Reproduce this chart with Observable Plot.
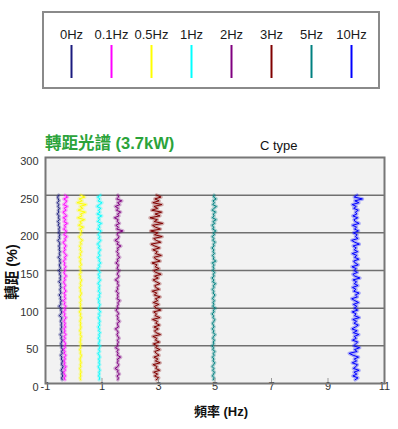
<!DOCTYPE html>
<html><head><meta charset="utf-8">
<script src="https://cdn.jsdelivr.net/npm/d3@7"></script>
<script src="https://cdn.jsdelivr.net/npm/@observablehq/plot@0.6"></script>
<style>
body{margin:0;background:#fff;}
#wrap{position:relative;width:398px;height:429px;overflow:hidden;font-family:"Liberation Sans",Arial,"Noto Sans CJK TC",sans-serif;}
.abs{position:absolute;white-space:nowrap;line-height:1;}
#legend{position:absolute;left:42px;top:11px;width:334px;height:74px;border:2px solid #8a8a8a;}
</style></head><body><div id="wrap"><div id="legend"></div></div>
<script>
const legendLabels = ["0Hz","0.1Hz","0.5Hz","1Hz","2Hz","3Hz","5Hz","10Hz"];
const colors = ["#1b1b7e","#ff00ff","#ffff00","#00ffff","#800080","#800000","#008080","#0000ff"];
const xTicks = [-1,1,3,5,7,9,11];
const yTicks = [0,50,100,150,200,250,300];
const gridVals = [50,100,150,200,250];
const yLevels = [5,7.5,10,12.5,15,17.5,20,22.5,25,27.5,30,32.5,35,37.5,40,42.5,45,47.5,50,52.5,
  55,57.5,60,62.5,65,67.5,70,72.5,75,77.5,80,82.5,85,87.5,90,92.5,95,97.5,100,102.5,
  105,107.5,110,112.5,115,117.5,120,122.5,125,127.5,130,132.5,135,137.5,140,142.5,145,147.5,150,152.5,
  155,157.5,160,162.5,165,167.5,170,172.5,175,177.5,180,182.5,185,187.5,190,192.5,195,197.5,200,202.5,
  205,207.5,210,212.5,215,217.5,220,222.5,225,227.5,230,232.5,235,237.5,240,242.5,245,247.5,250];

const x0Hz = [-0.41,-0.43,-0.39,-0.42,-0.40,-0.45,-0.41,-0.38,-0.43,-0.42,
  -0.40,-0.44,-0.42,-0.47,-0.41,-0.43,-0.39,-0.44,-0.42,-0.46,
  -0.43,-0.41,-0.45,-0.43,-0.49,-0.42,-0.44,-0.46,-0.42,-0.45,
  -0.43,-0.47,-0.44,-0.42,-0.51,-0.45,-0.43,-0.46,-0.44,-0.53,
  -0.45,-0.47,-0.44,-0.48,-0.46,-0.52,-0.45,-0.47,-0.49,-0.45,
  -0.48,-0.46,-0.53,-0.47,-0.49,-0.46,-0.50,-0.48,-0.54,-0.47,
  -0.49,-0.51,-0.47,-0.50,-0.48,-0.55,-0.49,-0.51,-0.48,-0.52,
  -0.50,-0.53,-0.49,-0.51,-0.56,-0.50,-0.52,-0.49,-0.54,-0.51,
  -0.53,-0.50,-0.55,-0.52,-0.57,-0.51,-0.54,-0.52,-0.58,-0.53,
  -0.55,-0.51,-0.56,-0.53,-0.58,-0.52,-0.55,-0.57,-0.53];
const x01Hz = [-0.31,-0.34,-0.29,-0.33,-0.36,-0.30,-0.32,-0.27,-0.34,-0.31,
  -0.35,-0.30,-0.33,-0.28,-0.34,-0.31,-0.37,-0.30,-0.33,-0.29,
  -0.32,-0.36,-0.30,-0.34,-0.28,-0.33,-0.31,-0.35,-0.29,-0.33,
  -0.30,-0.35,-0.32,-0.27,-0.34,-0.31,-0.36,-0.30,-0.33,-0.28,
  -0.34,-0.31,-0.37,-0.29,-0.33,-0.30,-0.35,-0.27,-0.32,-0.34,
  -0.29,-0.33,-0.36,-0.30,-0.34,-0.26,-0.32,-0.35,-0.30,-0.33,
  -0.28,-0.34,-0.31,-0.37,-0.29,-0.33,-0.25,-0.32,-0.36,-0.30,
  -0.34,-0.27,-0.33,-0.38,-0.29,-0.32,-0.24,-0.35,-0.30,-0.26,
  -0.36,-0.29,-0.33,-0.23,-0.35,-0.28,-0.37,-0.25,-0.32,-0.38,
  -0.27,-0.34,-0.23,-0.36,-0.29,-0.25,-0.35,-0.22,-0.31];
const x05Hz = [0.24,0.22,0.25,0.23,0.26,0.24,0.21,0.25,0.23,0.26,
  0.24,0.22,0.25,0.27,0.23,0.24,0.21,0.25,0.23,0.26,
  0.22,0.25,0.24,0.27,0.23,0.25,0.21,0.24,0.26,0.23,
  0.25,0.22,0.24,0.27,0.23,0.25,0.20,0.24,0.26,0.23,
  0.25,0.22,0.26,0.24,0.21,0.25,0.27,0.23,0.24,0.21,
  0.26,0.23,0.25,0.28,0.22,0.24,0.20,0.26,0.23,0.25,
  0.21,0.27,0.24,0.22,0.26,0.19,0.25,0.23,0.28,0.22,
  0.25,0.20,0.27,0.23,0.31,0.22,0.18,0.26,0.24,0.29,
  0.21,0.34,0.17,0.27,0.22,0.38,0.14,0.29,0.24,0.41,
  0.15,0.32,0.22,0.44,0.12,0.30,0.19,0.39,0.25];
const x1Hz = [0.90,0.92,0.88,0.91,0.89,0.93,0.90,0.87,0.92,0.89,
  0.91,0.88,0.93,0.90,0.86,0.92,0.89,0.91,0.94,0.88,
  0.90,0.92,0.87,0.91,0.89,0.94,0.88,0.91,0.86,0.92,
  0.89,0.93,0.90,0.87,0.92,0.88,0.95,0.90,0.87,0.91,
  0.93,0.88,0.90,0.86,0.92,0.89,0.94,0.87,0.91,0.89,
  0.92,0.86,0.90,0.95,0.88,0.91,0.87,0.93,0.89,0.85,
  0.92,0.88,0.96,0.89,0.91,0.85,0.93,0.88,0.90,0.95,
  0.87,0.92,0.84,0.90,0.96,0.88,0.93,0.86,0.91,0.97,
  0.85,0.92,0.88,0.98,0.84,0.91,0.87,0.99,0.83,0.93,
  0.88,0.96,0.82,0.91,1.00,0.86,0.93,0.84,0.95];
const x2Hz = [1.56,1.58,1.53,1.62,1.55,1.57,1.46,1.56,1.59,1.54,
  1.57,1.55,1.66,1.54,1.57,1.53,1.58,1.48,1.56,1.55,
  1.58,1.54,1.61,1.56,1.53,1.57,1.55,1.47,1.58,1.56,
  1.54,1.63,1.55,1.57,1.53,1.59,1.55,1.49,1.57,1.54,
  1.58,1.56,1.64,1.53,1.57,1.55,1.58,1.50,1.56,1.54,
  1.59,1.55,1.57,1.47,1.56,1.60,1.54,1.57,1.62,1.53,
  1.56,1.58,1.49,1.57,1.54,1.63,1.55,1.58,1.52,1.57,
  1.55,1.67,1.53,1.58,1.46,1.57,1.60,1.54,1.56,1.74,
  1.52,1.58,1.49,1.62,1.54,1.57,1.44,1.60,1.55,1.66,
  1.51,1.58,1.47,1.63,1.55,1.70,1.52,1.59,1.56];
const x3Hz = [2.92,3.01,2.86,2.97,2.83,3.04,2.90,2.95,2.81,3.06,
  2.89,2.98,2.84,3.02,2.92,2.87,3.05,2.90,2.96,2.82,
  3.03,2.89,2.94,2.80,3.07,2.91,2.86,2.99,2.84,3.04,
  2.90,2.96,2.79,3.05,2.88,2.93,2.83,3.08,2.91,2.86,
  3.01,2.82,2.97,2.89,3.06,2.85,2.94,2.78,3.03,2.90,
  2.87,3.05,2.92,2.81,2.99,2.86,3.09,2.90,2.83,3.02,
  2.88,2.95,2.77,3.06,2.91,2.84,3.10,2.89,2.96,2.80,
  3.04,2.87,2.74,3.08,2.92,2.83,3.13,2.86,2.98,2.72,
  3.07,2.89,2.79,3.15,2.85,2.96,2.70,3.05,2.88,3.11,
  2.76,2.97,2.84,3.12,2.80,3.02,2.87,3.09,2.93];
const x5Hz = [4.94,4.97,4.91,4.95,4.98,4.92,4.96,4.90,4.95,4.99,
  4.93,4.96,4.91,4.97,4.94,5.00,4.92,4.95,4.89,4.96,
  4.94,4.98,4.92,4.95,5.01,4.93,4.96,4.90,4.97,4.94,
  4.91,4.96,4.99,4.93,4.95,4.89,4.97,4.94,5.02,4.92,
  4.96,4.93,4.98,4.91,4.95,5.00,4.93,4.96,4.90,4.97,
  4.94,5.02,4.92,4.96,4.89,4.97,4.94,4.99,4.91,4.96,
  4.93,4.97,4.90,5.03,4.94,4.96,4.91,4.98,4.93,4.96,
  4.89,4.97,4.94,5.01,4.92,4.96,4.90,4.98,4.94,5.03,
  4.92,4.96,4.89,4.99,4.93,5.04,4.91,4.97,4.94,5.02,
  4.90,4.96,5.05,4.92,4.98,4.93,5.04,4.95,4.97];
const x10Hz = [9.96,10.06,9.88,10.02,9.92,10.10,9.90,9.99,10.04,9.86,
  10.01,9.93,10.08,9.89,9.75,10.03,9.94,10.12,9.91,9.98,
  10.05,9.87,10.00,9.93,10.09,9.90,10.03,9.85,9.97,10.07,
  9.92,10.01,9.88,10.11,9.94,9.99,9.86,10.05,9.93,10.02,
  9.90,10.08,9.95,9.84,10.04,9.97,10.10,9.91,9.99,9.87,
  10.06,9.93,10.01,9.89,10.13,9.95,9.88,10.04,9.92,10.00,
  9.85,10.07,9.96,9.91,10.09,9.94,10.02,9.86,10.05,9.93,
  10.00,9.89,10.11,9.95,9.84,10.06,9.97,10.03,9.90,10.08,
  9.94,10.01,9.87,10.10,9.96,9.92,10.05,9.88,10.02,9.97,
  10.07,9.91,10.00,9.86,10.09,9.95,10.22,9.93,10.03];
const series = [x0Hz,x01Hz,x05Hz,x1Hz,x2Hz,x3Hz,x5Hz,x10Hz];

const titleText = "轉距光譜 (3.7kW)";
const subTitle = "C type";
const xLabel = "頻率 (Hz)";
const yLabel = "轉距 (%)";

const FONT = '"Liberation Sans", Arial, "Noto Sans CJK TC", sans-serif';
const wrap = document.getElementById("wrap");

// legend
const legendPlot = Plot.plot({
  width: 334, height: 74, marginLeft: 25, marginRight: 26, marginTop: 0, marginBottom: 0,
  style: {fontFamily: FONT, background: "transparent", overflow: "visible"},
  x: {type: "point", domain: legendLabels, padding: 0, axis: null},
  color: {domain: legendLabels, range: colors},
  marks: [
    Plot.ruleX(legendLabels, {x: d => d, stroke: d => d, strokeWidth: 2, insetTop: 32, insetBottom: 9}),
    Plot.text(legendLabels, {x: d => d, text: d => d, frameAnchor: "top", dy: 16, fontSize: 13, fill: "#1a1a1a"})
  ]
});
document.getElementById("legend").appendChild(legendPlot);

// titles
function addText(txt, css){
  const d = document.createElement("div");
  d.className = "abs"; d.textContent = txt; Object.assign(d.style, css);
  wrap.appendChild(d);
}
addText(titleText, {left: "45px", top: "135px", fontSize: "16.5px", fontWeight: "bold", color: "#2ba33a"});
addText(subTitle, {left: "260px", top: "139px", fontSize: "13px", color: "#111"});
addText(xLabel, {left: "221px", top: "405px", fontSize: "13px", fontWeight: "bold", color: "#111", transform: "translateX(-50%)"});
addText(yLabel, {left: "12px", top: "272px", fontSize: "14.5px", fontWeight: "bold", color: "#111", transform: "translate(-50%,-50%) rotate(-90deg)"});

// main chart
const rows = [];
series.forEach((xs, i) => xs.forEach((x, j) => rows.push({s: legendLabels[i], x, y: yLevels[j]})));

const chart = Plot.plot({
  width: 398, height: 289, marginTop: 17, marginBottom: 46, marginLeft: 45, marginRight: 14,
  style: {fontFamily: FONT, fontSize: "11px", color: "#333", background: "transparent"},
  x: {domain: [-1, 11]},
  y: {domain: [0, 300]},
  color: {domain: legendLabels, range: colors},
  marks: [
    Plot.frame({fill: "#f2f2f2", stroke: "none"}),
    Plot.gridY(gridVals, {stroke: "#707070", strokeOpacity: 1, strokeWidth: 1.5}),
    Plot.line(rows, {x: "x", y: "y", z: "s", stroke: "s", strokeWidth: 3.5, strokeOpacity: 0.3}),
    Plot.line(rows, {x: "x", y: "y", z: "s", stroke: "s", strokeWidth: 1}),
    Plot.axisX(xTicks, {tickSize: -5, tickPadding: 4, stroke: "#999", label: null, tickFormat: d => String(d), fontSize: 11}),
    Plot.axisY(yTicks, {tickSize: 0, tickPadding: 7, dy: 4, label: null, tickFormat: d => String(d), fontSize: 11}),
    Plot.frame({stroke: "#777", strokeWidth: 2})
  ]
});
chart.style.position = "absolute";
chart.style.left = "0px";
chart.style.top = "140px";
wrap.appendChild(chart);
</script>
</body></html>
